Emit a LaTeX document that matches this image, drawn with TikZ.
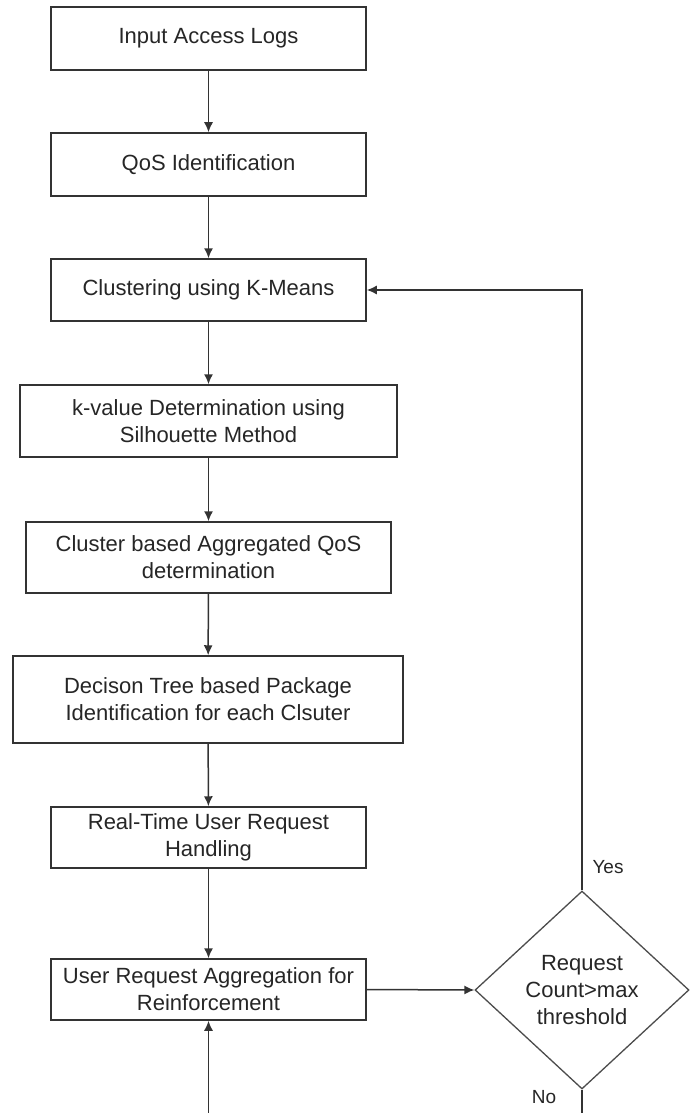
\documentclass[tikz,border=0pt]{standalone}
\usepackage{fontspec}
\setmainfont{Liberation Sans}
\usetikzlibrary{shapes.geometric,arrows.meta}
\begin{document}
\begin{tikzpicture}[x=1pt,y=-1pt,
  every node/.style={font=\fontsize{22}{27}\selectfont, text=black!85},
  procbox/.style={draw=black!80, line width=1.5pt, rectangle, inner sep=0pt, align=center},
  decbox/.style={draw=black!70, line width=1.3pt, diamond, aspect=1.08, inner sep=0pt, minimum width=214pt, minimum height=198pt, align=center},
  flow/.style={draw=black!80, line width=1.5pt, -{Latex[length=10pt,width=9pt]}},
  plain/.style={draw=black!80, line width=1.5pt}]
\useasboundingbox[fill=white] (0,0) rectangle (691,1113);
\node[procbox, minimum width=315pt, minimum height=63pt] (b1) at (208.5,38.5) {Input Access Logs};
\node[procbox, minimum width=315pt, minimum height=63pt] (b2) at (208.5,164.5) {QoS Identification};
\node[procbox, minimum width=315pt, minimum height=62pt] (b3) at (208.5,290) {Clustering using K-Means};
\node[procbox, minimum width=377pt, minimum height=72pt] (b4) at (208.5,421) {k-value Determination using\\Silhouette Method};
\node[procbox, minimum width=365pt, minimum height=71pt] (b5) at (208.5,557.5) {Cluster based Aggregated QoS\\determination};
\node[procbox, minimum width=390pt, minimum height=87pt] (b6) at (208,699.5) {Decison Tree based Package\\Identification for each Clsuter};
\node[procbox, minimum width=315pt, minimum height=61pt] (b7) at (208.5,837.5) {Real-Time User Request\\Handling};
\node[procbox, minimum width=315pt, minimum height=61pt] (b8) at (208.5,989.5) {User Request Aggregation for\\Reinforcement};
\node[decbox] (d) at (582,990) {Request\\Count>max\\threshold};
\node (yes) at (608,867) {\fontsize{19}{20}\selectfont Yes};
\node (no) at (544,1097) {\fontsize{19}{20}\selectfont No};
\coordinate (e1) at (208.5,1113);
\coordinate (e2) at (582,1113);
\draw[flow] (b1) -- (b2);
\draw[flow] (b2) -- (b3);
\draw[flow] (b3) -- (b4);
\draw[flow] (b4) -- (b5);
\draw[flow] (b5) -- (b6);
\draw[flow] (b6) -- (b7);
\draw[flow] (b7) -- (b8);
\draw[flow] (b8.east) -- (d.west);
\draw[flow] (d.north) |- (b3.east);
\draw[flow] (e1) -- (b8.south);
\draw[plain] (d.south) -- (e2);
\end{tikzpicture}
\end{document}
